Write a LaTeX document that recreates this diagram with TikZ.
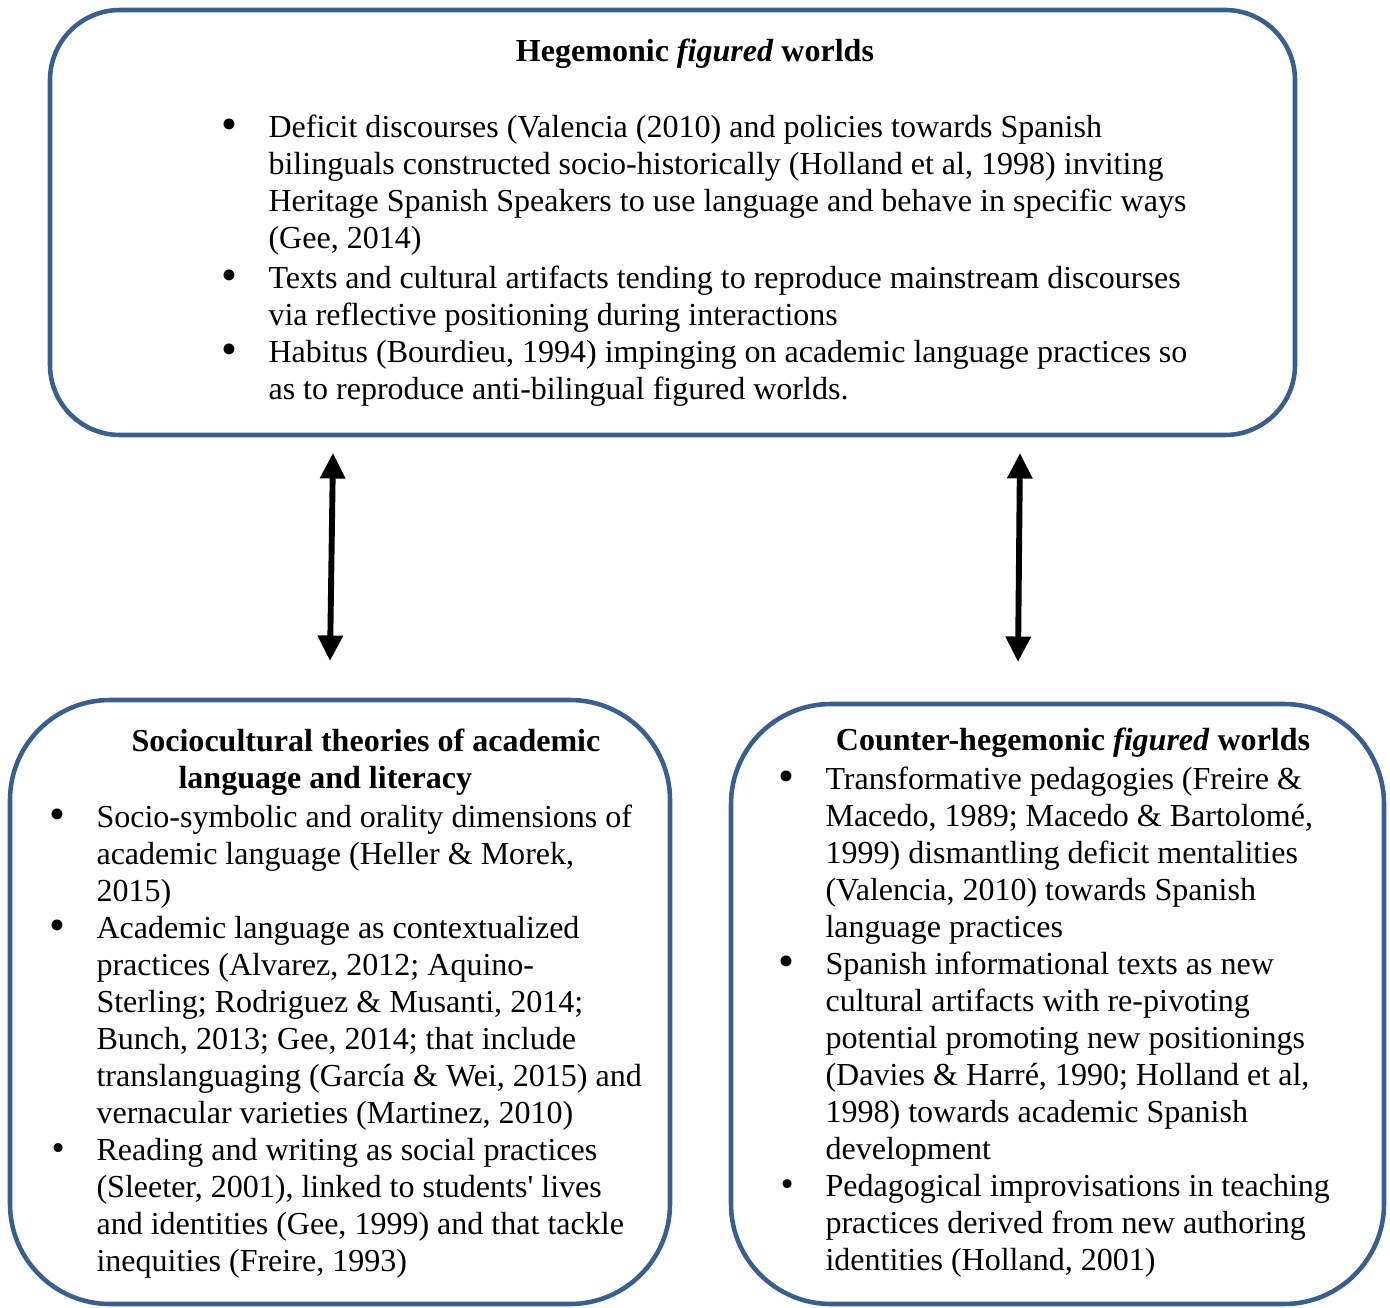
\documentclass[tikz,border=0pt]{standalone}
\usepackage{fontspec}
\setmainfont{Liberation Serif}
\usetikzlibrary{arrows.meta,positioning}
\definecolor{boxblue}{RGB}{58,95,140}
\newdimen\px
\px=0.3731pt
\newcommand{\bul}{\makebox[46\px][l]{\hspace*{-1\px}\raisebox{-2.5\px}{\fontsize{17}{17}\selectfont\textbullet}}}
\newcommand{\sbul}{\makebox[46\px][l]{\hspace*{1\px}\raisebox{-0.5\px}{\fontsize{14}{14}\selectfont\textbullet}}}
\newcommand{\ind}{\hspace*{46\px}}

\begin{document}
\begin{tikzpicture}[x=0.3731pt, y=-0.3731pt,
    worldbox/.style={draw=boxblue, line width=1.7pt, rectangle, rounded corners=#1, inner sep=0pt},
    worldtext/.style={align=left, inner sep=0pt, anchor=base west, font=\fontsize{11.95}{13.8}\selectfont},
    worldhead/.style={worldtext, font=\fontsize{11.95}{13.8}\selectfont\bfseries},
    worldtitle/.style={inner sep=0pt, anchor=base, font=\fontsize{11.95}{13.8}\selectfont\bfseries},
    link/.style={line width=2.2pt, {Triangle[width=9pt,length=9.5pt]}-{Triangle[width=9pt,length=9.5pt]}}]
  \useasboundingbox (0,0) rectangle (1390,1308);

  \node (hegemonic) [worldbox=70\px, minimum width=1245\px, minimum height=425\px] at (672.5,222.5) {};
  \node (socio) [worldbox=100\px, minimum width=660\px, minimum height=604\px] at (340,1002) {};
  \node (counter) [worldbox=100\px, minimum width=653\px, minimum height=600\px] at (1057.5,1004) {};

  \node (hegtitle) [worldtitle] at (695,62) {Hegemonic \textit{figured} worlds};
  \node (heglist) [worldtext] at (222,399) {\bul Deficit discourses (Valencia (2010) and policies towards Spanish\\
    \ind bilinguals constructed socio-historically (Holland et al, 1998) inviting\\
    \ind Heritage Spanish Speakers to use language and behave in specific ways\\
    \ind (Gee, 2014)\\[3\px]
    \bul Texts and cultural artifacts tending to reproduce mainstream discourses\\
    \ind via reflective positioning during interactions\\
    \bul Habitus (Bourdieu, 1994) impinging on academic language practices so\\
    \ind as to reproduce anti-bilingual figured worlds.};

  \node (sociotitle) [worldhead] at (131,788) {Sociocultural theories of academic\\
    \hspace*{47\px}language and literacy};
  \node (sociolist) [worldtext] at (50,1271) {\bul Socio-symbolic and orality dimensions of\\
    \ind academic language (Heller \& Morek,\\
    \ind 2015)\\
    \bul Academic language as contextualized\\
    \ind practices (Alvarez, 2012; Aquino-\\
    \ind Sterling; Rodriguez \& Musanti, 2014;\\
    \ind Bunch, 2013; Gee, 2014; that include\\
    \ind translanguaging (García \& Wei, 2015) and\\
    \ind vernacular varieties (Martinez, 2010)\\
    \sbul Reading and writing as social practices\\
    \ind (Sleeter, 2001), linked to students\textquotesingle{} lives\\
    \ind and identities (Gee, 1999) and that tackle\\
    \ind inequities (Freire, 1993)};

  \node (countertitle) [worldtitle] at (1073,750) {Counter-hegemonic \textit{figured} worlds};
  \node (counterlist) [worldtext] at (779,1270) {\bul Transformative pedagogies (Freire \&\\
    \ind Macedo, 1989; Macedo \& Bartolomé,\\
    \ind 1999) dismantling deficit mentalities\\
    \ind (Valencia, 2010) towards Spanish\\
    \ind language practices\\
    \bul Spanish informational texts as new\\
    \ind cultural artifacts with re-pivoting\\
    \ind potential promoting new positionings\\
    \ind (Davies \& Harré, 1990; Holland et al,\\
    \ind 1998) towards academic Spanish\\
    \ind development\\
    \sbul Pedagogical improvisations in teaching\\
    \ind practices derived from new authoring\\
    \ind identities (Holland, 2001)};

  \coordinate (hegleft) at (333,453);
  \coordinate (sociotop) at (330,661);
  \coordinate (hegright) at (1020,453);
  \coordinate (countertop) at (1018,662);

  \draw[link] (hegleft) -- (sociotop);
  \draw[link] (hegright) -- (countertop);
\end{tikzpicture}
\end{document}
